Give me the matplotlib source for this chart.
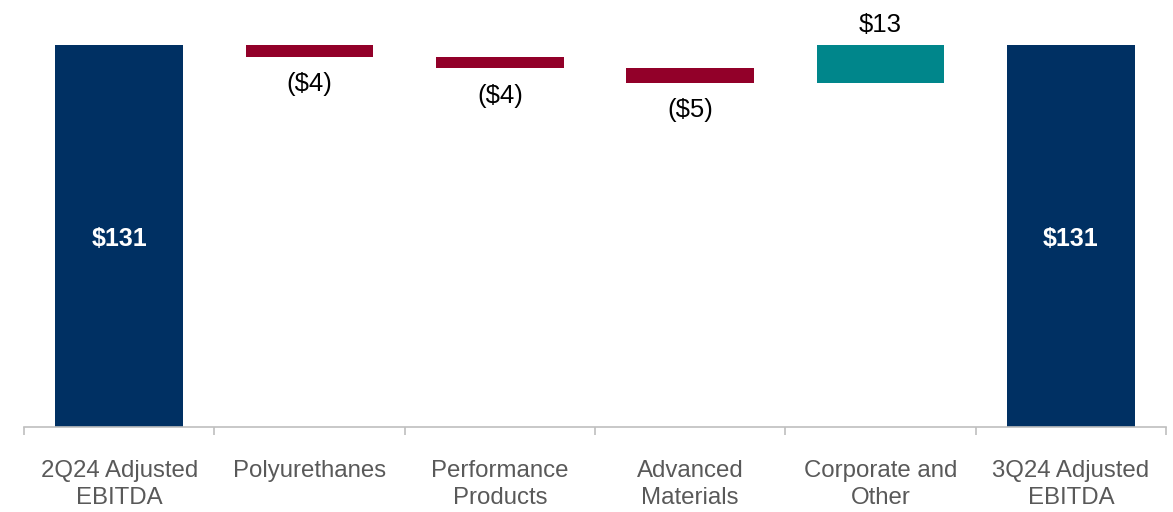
import matplotlib
matplotlib.use("Agg")
import matplotlib.pyplot as plt
import numpy as np

categories = ["2Q24 Adjusted\nEBITDA", "Polyurethanes", "Performance\nProducts",
              "Advanced\nMaterials", "Corporate and\nOther", "3Q24 Adjusted\nEBITDA"]
start_value = 131
changes = [-4, -4, -5, 13]
end_value = 131
labels = ["$131", "($4)", "($4)", "($5)", "$13", "$131"]

NAVY = "#003063"
RED = "#920029"
TEAL = "#00868B"

plt.rcParams['font.family'] = ['Liberation Sans', 'DejaVu Sans']

fig = plt.figure(figsize=(11.73, 5.12), dpi=100)
ax = fig.add_axes([24/1173, 1 - 427/512, (1166 - 24)/1173, (427 - 45)/512])

x = np.arange(len(categories))
w = 0.67

# totals
ax.bar(x[0], start_value, width=w, color=NAVY)
ax.bar(x[-1], end_value, width=w, color=NAVY)
ax.annotate(labels[0], (x[0], start_value / 2), xytext=(0, -2), textcoords='offset points',
            ha='center', va='center', color='white', fontsize=18, fontweight='bold')
ax.annotate(labels[-1], (x[-1], end_value / 2), xytext=(0, -2), textcoords='offset points',
            ha='center', va='center', color='white', fontsize=18, fontweight='bold')

running = start_value
for i, ch in enumerate(changes):
    xi = x[i + 1]
    new = running + ch
    bottom = min(running, new)
    color = RED if ch < 0 else TEAL
    ax.bar(xi, abs(ch), bottom=bottom, width=w, color=color)
    if ch < 0:
        ax.annotate(labels[i + 1], (xi, bottom), xytext=(0, -11), textcoords='offset points',
                    ha='center', va='top', fontsize=18.5, color='#000000', annotation_clip=False)
    else:
        ax.annotate(labels[i + 1], (xi, bottom + abs(ch)), xytext=(0, 6), textcoords='offset points',
                    ha='center', va='bottom', fontsize=18.5, color='#000000', annotation_clip=False)
    running = new

ax.set_xlim(-0.5, len(categories) - 0.5)
ax.set_ylim(0, start_value)
for s in ['top', 'right', 'left']:
    ax.spines[s].set_visible(False)
ax.spines['bottom'].set_color('#BFBFBF')
ax.spines['bottom'].set_linewidth(1.2)
ax.set_yticks([])

ax.set_xticks(x)
ax.set_xticklabels(categories, fontsize=17.3, color='#595959', linespacing=1.25)
ax.tick_params(axis='x', which='major', length=0, pad=24)
ax.set_xticks(np.arange(-0.5, len(categories), 1.0), minor=True)
ax.tick_params(axis='x', which='minor', length=6, color='#BFBFBF', width=1.2)

fig.savefig("out.png", dpi=100, facecolor='white')
